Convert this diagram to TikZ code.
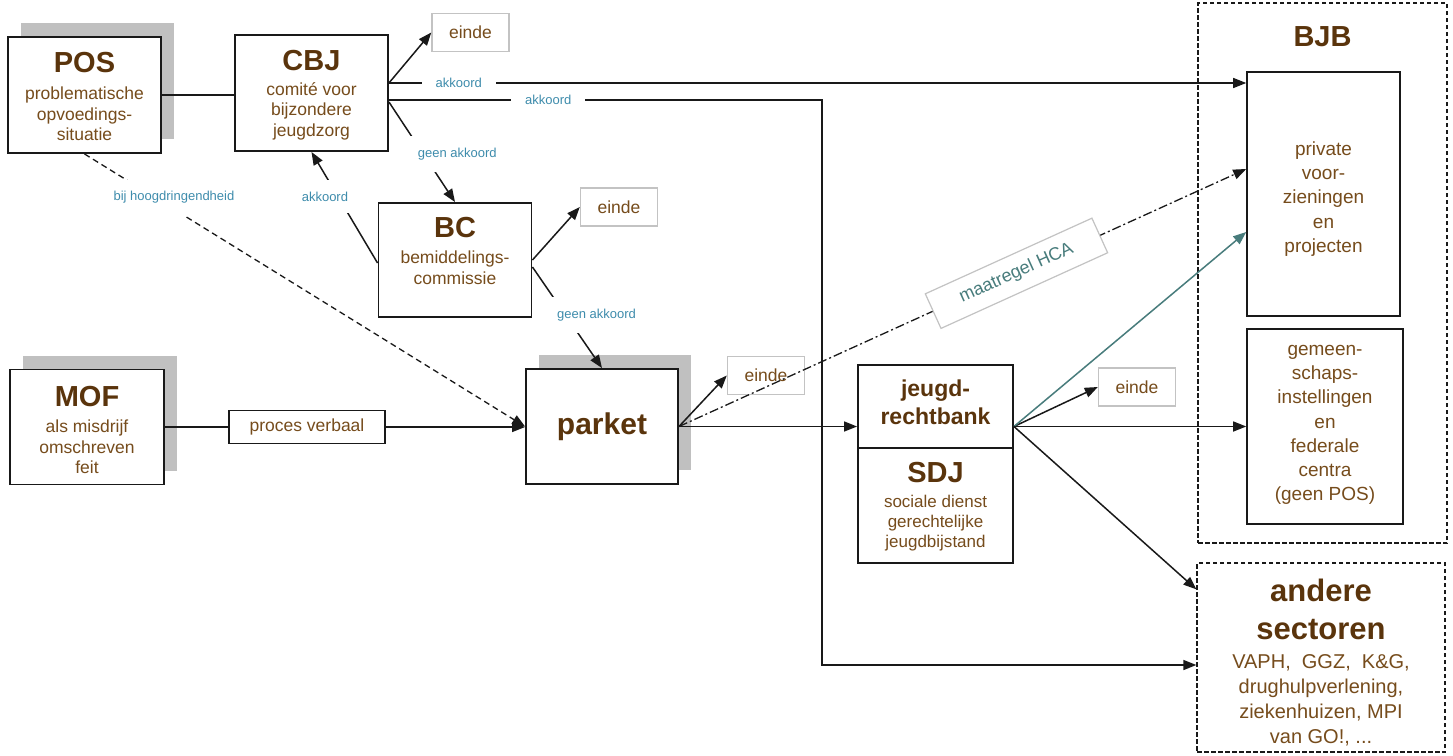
\documentclass[tikz,border=0pt]{standalone}
\usepackage{fontspec}
\setmainfont{Liberation Sans}
\usetikzlibrary{arrows.meta,shadows,calc}
\definecolor{titlec}{RGB}{90,52,12}
\definecolor{bodyc}{RGB}{118,76,28}
\definecolor{labc}{RGB}{62,140,172}
\definecolor{tealc}{RGB}{72,124,124}
\definecolor{shadc}{RGB}{192,192,192}
\definecolor{eindec}{RGB}{195,195,195}
\definecolor{linec}{RGB}{25,25,25}
\newcommand{\ttlf}{\fontsize{29}{33}\selectfont\bfseries}
\newcommand{\bdyf}{\fontsize{17.5}{20.5}\selectfont}
\newcommand{\labf}{\fontsize{13}{15}\selectfont}
\newcommand{\parkf}{\fontsize{30}{34}\selectfont\bfseries}
\newcommand{\jrbf}{\fontsize{23}{28}\selectfont\bfseries}
\newcommand{\sdjbf}{\fontsize{17}{20}\selectfont}
\newcommand{\rbf}{\fontsize{19}{24.2}\selectfont}
\newcommand{\andf}{\fontsize{31}{38}\selectfont\bfseries}
\newcommand{\andbf}{\fontsize{20}{25}\selectfont}
\newcommand{\hcaf}{\fontsize{18}{20}\selectfont}
\begin{document}
\begin{tikzpicture}[x=1pt,y=-1pt,
 every node/.style={inner sep=0pt},
 box/.style={draw=linec,line width=1.9pt,fill=white},
 shbox/.style={box,general shadow={fill=shadc,shadow xshift=13pt,shadow yshift=14pt}},
 eindebox/.style={draw=eindec,line width=1.4pt,fill=white,text=bodyc,font=\bdyf,minimum width=77pt,minimum height=38pt},
 dbox/.style={draw=linec,line width=1.3pt,dash pattern=on 4.5pt off 2.5pt},
 ttl/.style={text=titlec,font=\ttlf},
 bdy/.style={text=bodyc,font=\bdyf,align=center},
 conn/.style={draw=linec,line width=1.5pt},
 arr/.style={conn,-{Triangle[length=13pt,width=10pt]}},
 lab/.style={fill=white,text=labc,font=\labf,inner xsep=14pt,inner ysep=12pt},
 labh/.style={lab,inner ysep=3pt},
 hcabox/.style={solid,draw=eindec,line width=1.2pt,fill=white,text=tealc,font=\hcaf,minimum width=183pt,minimum height=38pt},
]
\fill[white] (0,0) rectangle (1453,755);
\useasboundingbox (0,0) rectangle (1453,755);

% boxes
\node[shbox,minimum width=153pt,minimum height=116pt] (pos) at (84.5,95) {};
\node[ttl] (posT) at (84.5,63) {POS};
\node[bdy] (posB) at (84.5,114) {problematische\\opvoedings-\\situatie};

\node[box,minimum width=153pt,minimum height=116pt] (cbj) at (311.5,93) {};
\node[ttl] (cbjT) at (311.5,61) {CBJ};
\node[bdy] (cbjB) at (311.5,111) {comité voor\\bijzondere\\jeugdzorg};

\node[eindebox] (e1) at (470.5,32.5) {einde};

\node[box,minimum width=153pt,minimum height=114pt] (bc) at (455,260) {};
\node[ttl] (bcT) at (455,228) {BC};
\node[bdy] (bcB) at (455,267.5) {bemiddelings-\\commissie};

\node[eindebox] (e2) at (619,207) {einde};

\node[shbox,minimum width=154pt,minimum height=115pt] (mof) at (87,427) {};
\node[ttl] (mofT) at (87,397) {MOF};
\node[bdy] (mofB) at (87,447) {als misdrijf\\omschreven\\feit};

\node[box,line width=1.6pt,minimum width=156pt,minimum height=33pt,text=bodyc,font=\bdyf] (pv) at (307,427) {proces verbaal};

\node[shbox,minimum width=152pt,minimum height=115pt,text=titlec,font=\parkf] (parket) at (602,426.5) {parket};

\node[eindebox] (e3) at (766,375.5) {einde};

\node[box,minimum width=155pt,minimum height=83pt] (jrb) at (935.5,406.5) {};
\node[ttl,font=\jrbf,align=center] (jrbT) at (935.5,402) {jeugd-\\rechtbank};
\node[box,minimum width=155pt,minimum height=115pt] (sdj) at (935.5,505.5) {};
\node[ttl] (sdjT) at (935.5,473) {SDJ};
\node[bdy,font=\sdjbf] (sdjB) at (935.5,523) {sociale dienst\\gerechtelijke\\jeugdbijstand};

\node[eindebox] (e4) at (1137,387) {einde};

\node[dbox,minimum width=249pt,minimum height=540pt] (bjb) at (1322.5,273) {};
\node[ttl] (bjbT) at (1322.5,37) {BJB};
\node[box,line width=1.6pt,minimum width=153pt,minimum height=244pt] (priv) at (1323.5,194) {};
\node[bdy,font=\rbf] (privB) at (1323.5,199) {private\\voor-\\zieningen\\en\\projecten};
\node[box,line width=1.6pt,minimum width=156pt,minimum height=195pt] (gem) at (1325,426.5) {};
\node[bdy,font=\rbf] (gemB) at (1325,425) {gemeen-\\schaps-\\instellingen\\en\\federale\\centra\\(geen POS)};

\node[dbox,minimum width=248pt,minimum height=189pt] (andere) at (1321,657.5) {};
\node[ttl,font=\andf,align=center] (andT) at (1321,609) {andere\\sectoren};
\node[bdy,font=\andbf] (andB) at (1321,700) {VAPH,~ GGZ,~ K\&G,\\drughulpverlening,\\ziekenhuizen, MPI\\van GO!, ...};

% connectors
\coordinate (c1) at ($(cbj.east)+(0,-10)$);
\coordinate (c2) at ($(cbj.east)+(0,7)$);
\coordinate (c3) at ($(cbj.east)+(0,9)$);
\coordinate (vx) at ($(c2 -| jrb.west)+(-35,0)$);
\coordinate (aend) at ($(andere.west)+(0,7.5)$);
\coordinate (jx) at (jrb.east |- parket.east);

\draw[conn] (pos.east) -- (pos.east -| cbj.west);
\draw[arr] (c1) -- (e1.west);
\draw[arr] (c1) -- node[labh,pos=0.0815]{akkoord} (c1 -| priv.west);
\draw[arr] (c2) -- node[labh,pos=0.368]{akkoord} (vx) |- (aend);
\draw[arr] (c3) -- node[lab,pos=0.52,xshift=34pt]{geen akkoord} (bc.north);
\draw[arr] ($(bc.west)+(0,3)$) -- node[lab,pos=0.6,xshift=-13pt]{akkoord} (cbj.south);
\draw[arr] (bc.east) -- (e2.west);
\draw[arr] ($(bc.east)+(0,7)$) -- node[lab,pos=0.475,xshift=31pt]{geen akkoord} (parket.north);
\draw[arr,line width=1.3pt,dash pattern=on 6pt off 4pt] (pos.south) -- node[lab,pos=0.16,xshift=19pt]{bij hoogdringendheid} (parket.west);
\draw[conn] (mof.east) -- (pv.west);
\draw[arr] (pv.east) -- (pv.east -| parket.west);
\draw[arr] (parket.east) -- (e3.west);
\draw[arr,line width=1.3pt,dash pattern=on 9pt off 3pt on 2pt off 3pt] (parket.east) -- node[sloped,pos=0.595,hcabox] (hca) {maatregel HCA} ($(priv.west)+(0,-25)$);
\draw[arr] (parket.east) -- (parket.east -| jrb.west);
\draw[arr] (jx) -- (e4.west);
\draw[arr,draw=tealc] (jx) -- ($(priv.west)+(0,38)$);
\draw[arr] (jx) -- (jx -| gem.west);
\draw[arr] (jx) -- ($(andere.north west)+(0,27)$);
\end{tikzpicture}
\end{document}
